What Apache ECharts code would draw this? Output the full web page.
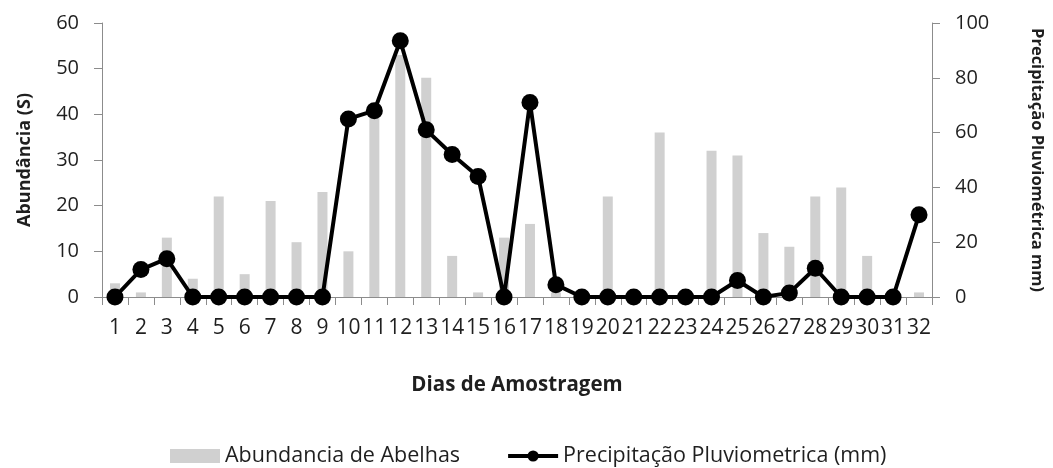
<!DOCTYPE html>
<html>
<head>
<meta charset="utf-8">
<script src="https://cdn.jsdelivr.net/npm/echarts@6/dist/echarts.min.js"></script>
<style>
  html, body { margin: 0; padding: 0; background: #fff; }
  #chart { width: 1053px; height: 468px; }
</style>
</head>
<body>
<div id="chart"></div>
<script>
// Sampling days 1..32
const dias = ['1','2','3','4','5','6','7','8','9','10','11','12','13','14','15','16',
              '17','18','19','20','21','22','23','24','25','26','27','28','29','30','31','32'];
// Bee abundance (S) per day
const abundancia = [3, 1, 13, 4, 22, 5, 21, 12, 23, 10, 40, 53, 48, 9, 1, 13,
                    16, 1, 0, 22, 0, 36, 0, 32, 31, 14, 11, 22, 24, 9, 0, 1];
// Rainfall (mm) per day
const precipitacao = [0, 10, 14, 0, 0, 0, 0, 0, 0, 65, 68, 93.5, 61, 52, 44, 0,
                      71, 4.5, 0, 0, 0, 0, 0, 0, 6, 0, 1.5, 10.5, 0, 0, 0, 30];
const ticksEsq = { min: 0, max: 60, interval: 10 };
const ticksDir = { min: 0, max: 100, interval: 20 };

const FONT = '"Open Sans", "Noto Sans", sans-serif';
const TXT = '#1f1f1f';
const AXIS = '#8c8c8c';

const chart = echarts.init(document.getElementById('chart'), null, { renderer: 'canvas' });
chart.setOption({
  animation: false,
  textStyle: { fontFamily: FONT, color: TXT },
  grid: { left: 102, right: 113, top: 23, bottom: 171, containLabel: false },
  legend: {
    left: 165, top: 440,
    itemWidth: 50, itemHeight: 14, itemGap: 46,
    textStyle: { fontFamily: FONT, fontSize: 21.5, color: TXT },
    data: [
      { name: 'Abundancia de Abelhas', icon: 'rect' },
      { name: 'Precipitação Pluviometrica (mm)', lineStyle: { width: 4, color: '#000' } }
    ]
  },
  xAxis: {
    type: 'category',
    data: dias,
    name: 'Dias de Amostragem',
    nameLocation: 'middle',
    nameGap: 78,
    nameTextStyle: { fontFamily: FONT, fontSize: 20.5, fontWeight: 'bold', color: TXT },
    axisLine: { lineStyle: { color: AXIS, width: 1 } },
    axisTick: { show: true, alignWithLabel: false, length: 8, lineStyle: { color: AXIS } },
    axisLabel: { interval: 0, margin: 21, fontSize: 21, color: TXT, fontFamily: FONT },
    splitLine: { show: false }
  },
  yAxis: [
    {
      type: 'value', position: 'left',
      min: ticksEsq.min, max: ticksEsq.max, interval: ticksEsq.interval,
      name: 'Abundância (S)', nameLocation: 'middle', nameGap: 68, nameRotate: 90,
      nameTextStyle: { fontFamily: FONT, fontSize: 18, fontWeight: 'bold', color: TXT },
      axisLine: { show: true, lineStyle: { color: AXIS } },
      axisTick: { show: true, length: 8, lineStyle: { color: AXIS } },
      axisLabel: { margin: 23, fontSize: 20, color: TXT, fontFamily: FONT },
      splitLine: { show: false }
    },
    {
      type: 'value', position: 'right',
      min: ticksDir.min, max: ticksDir.max, interval: ticksDir.interval,
      name: 'Precipitação Pluviométrica mm)', nameLocation: 'middle', nameGap: 96, nameRotate: -90,
      nameTextStyle: { fontFamily: FONT, fontSize: 16.5, fontWeight: 'bold', color: TXT },
      axisLine: { show: true, lineStyle: { color: AXIS } },
      axisTick: { show: true, length: 8, lineStyle: { color: AXIS } },
      axisLabel: { margin: 23, fontSize: 20, color: TXT, fontFamily: FONT },
      splitLine: { show: false }
    }
  ],
  series: [
    {
      name: 'Abundancia de Abelhas',
      type: 'bar',
      yAxisIndex: 0,
      data: abundancia,
      barWidth: 10,
      itemStyle: { color: '#d0d0d0' }
    },
    {
      name: 'Precipitação Pluviometrica (mm)',
      type: 'line',
      yAxisIndex: 1,
      data: precipitacao,
      symbol: 'circle',
      symbolSize: 17,
      lineStyle: { color: '#000', width: 4 },
      itemStyle: { color: '#000' },
      z: 3
    }
  ]
});
</script>
</body>
</html>
